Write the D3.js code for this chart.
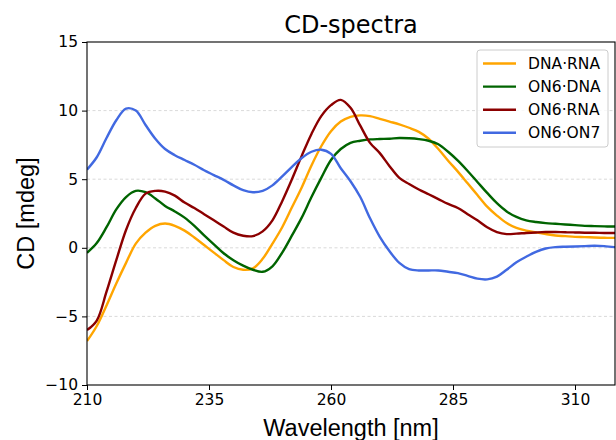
<!DOCTYPE html>
<html>
<head>
<meta charset="utf-8">
<script src="https://cdn.jsdelivr.net/npm/d3@7"></script>
<style>
  body { margin: 0; background: #fff; }
  svg { display: block; }
  .tick text { font-family: "DejaVu Sans", sans-serif; font-size: 15.5px; fill: #000; }
</style>
</head>
<body>
<svg id="cdChart" width="616" height="440"></svg>
<script>
var wavelengths = [210,212,214,216,218,220,222,224,226,228,230,232,234,236,238,240,242,244,246,248,
  250,252,254,256,258,260,262,264,266,268,270,272,274,276,278,280,282,284,286,288,
  290,292,294,296,298,300,302,304,306,308,310,312,314,316,318,320];

var dnaRna = [-6.8,-5.7,-4.2,-2.6,-1.1,0.3,1.1,1.6,1.77,1.6,1.25,0.75,0.2,-0.35,-0.9,-1.4,-1.6,-1.5,-0.8,0.3,
  1.5,2.95,4.4,6.0,7.4,8.5,9.2,9.55,9.65,9.6,9.4,9.2,9.0,8.75,8.45,7.95,7.2,6.35,5.55,4.7,
  3.85,3.0,2.35,1.8,1.45,1.25,1.12,1.0,0.9,0.85,0.8,0.78,0.75,0.73,0.72,0.72];

var on6Dna = [-0.36,0.35,1.5,2.8,3.7,4.15,4.05,3.6,3.05,2.65,2.2,1.6,0.9,0.25,-0.4,-0.9,-1.3,-1.6,-1.75,-1.35,
  -0.35,0.9,2.2,3.7,5.1,6.4,7.2,7.65,7.8,7.9,7.93,7.95,8.0,7.98,7.92,7.8,7.55,7.0,6.35,5.6,
  4.8,4.0,3.25,2.65,2.25,2.0,1.88,1.8,1.75,1.7,1.65,1.6,1.58,1.56,1.55,1.55];

var on6Rna = [-6.0,-5.3,-3.2,-0.9,1.3,2.9,3.95,4.15,4.1,3.8,3.3,2.9,2.45,2.0,1.55,1.1,0.88,0.85,1.2,2.0,
  3.4,5.0,6.7,8.3,9.6,10.4,10.78,10.2,8.9,7.65,6.9,5.95,5.1,4.65,4.25,3.9,3.55,3.2,2.9,2.45,
  2.0,1.5,1.15,1.0,1.03,1.08,1.12,1.15,1.15,1.13,1.12,1.1,1.1,1.08,1.08,1.08];

var on6On7 = [5.7,6.6,8.0,9.3,10.15,10.0,8.95,7.95,7.2,6.75,6.4,6.05,5.65,5.3,4.95,4.55,4.2,4.05,4.15,4.55,
  5.2,5.9,6.55,7.0,7.15,6.85,5.8,4.85,3.7,2.15,0.8,-0.25,-1.1,-1.55,-1.65,-1.65,-1.65,-1.75,-1.85,-2.05,
  -2.25,-2.3,-2.1,-1.6,-1.05,-0.65,-0.3,-0.05,0.05,0.08,0.1,0.12,0.15,0.12,0.05,0.05];

var seriesNames = ["DNA\u00b7RNA", "ON6\u00b7DNA", "ON6\u00b7RNA", "ON6\u00b7ON7"];
var seriesColors = ["#ffa500", "#006400", "#8b0000", "#4169e1"];
var xTicks = [210, 235, 260, 285, 310];
var yTicks = [-10, -5, 0, 5, 10, 15];

var series = [dnaRna, on6Dna, on6Rna, on6On7].map(function(vals, i) {
  return { name: seriesNames[i], color: seriesColors[i],
    points: vals.map(function(v, j) { return { x: wavelengths[j], y: v }; }) };
});

var margin = { top: 42, right: 1, bottom: 55, left: 87 };
var width = 616 - margin.left - margin.right;
var height = 440 - margin.top - margin.bottom;

var svg = d3.select("#cdChart");
var g = svg.append("g").attr("transform", "translate(" + margin.left + "," + margin.top + ")");

var x = d3.scaleLinear().domain([210, 210 + width / 4.88]).range([0, width]);
var y = d3.scaleLinear().domain([-10, 15]).range([height, 0]);

// dashed horizontal grid
g.selectAll(".grid")
  .data(yTicks.filter(function(t) { return t > -10 && t < 15; }))
  .enter().append("line")
  .attr("x1", 0).attr("x2", width)
  .attr("y1", function(d) { return y(d); }).attr("y2", function(d) { return y(d); })
  .attr("stroke", "#cfcfcf").attr("stroke-width", 0.8).attr("stroke-dasharray", "3,2.5");

g.append("clipPath").attr("id", "plotClip")
  .append("rect").attr("width", width).attr("height", height);

var line = d3.line()
  .x(function(d) { return x(d.x); })
  .y(function(d) { return y(d.y); })
  .curve(d3.curveCatmullRom.alpha(0.5));

g.append("g").attr("clip-path", "url(#plotClip)")
  .selectAll(".series")
  .data(series)
  .enter().append("path")
  .attr("fill", "none")
  .attr("stroke", function(d) { return d.color; })
  .attr("stroke-width", 2.4)
  .attr("stroke-linejoin", "round")
  .attr("d", function(d) { return line(d.points); });

// axes
var xAxis = g.append("g").attr("transform", "translate(0," + height + ")")
  .call(d3.axisBottom(x).tickValues(xTicks).tickSize(5).tickPadding(4).tickFormat(d3.format("d")));
var yAxis = g.append("g")
  .call(d3.axisLeft(y).tickValues(yTicks).tickSize(5).tickPadding(4).tickFormat(function(d) {
    return d < 0 ? "\u2212" + Math.abs(d) : d;
  }));
[xAxis, yAxis].forEach(function(a) {
  a.select(".domain").remove();
  a.selectAll(".tick line").attr("stroke", "#000").attr("stroke-width", 1);
});

g.append("rect")
  .attr("width", width).attr("height", height)
  .attr("fill", "none").attr("stroke", "#000").attr("stroke-width", 1.1);

// title + labels
svg.append("text")
  .attr("x", margin.left + width / 2).attr("y", 33)
  .attr("text-anchor", "middle")
  .style("font-family", "DejaVu Sans, sans-serif").style("font-size", "24px")
  .text("CD-spectra");

svg.append("text")
  .attr("x", margin.left + width / 2).attr("y", 436)
  .attr("text-anchor", "middle")
  .style("font-family", "Liberation Sans, Arial, sans-serif").style("font-size", "23.5px")
  .text("Wavelength [nm]");

svg.append("text")
  .attr("transform", "translate(34," + (margin.top + height / 2) + ") rotate(-90)")
  .attr("text-anchor", "middle")
  .style("font-family", "Liberation Sans, Arial, sans-serif").style("font-size", "23.5px")
  .text("CD [mdeg]");

// legend
var legend = svg.append("g").attr("transform", "translate(477,50)");
legend.append("rect")
  .attr("width", 131).attr("height", 97).attr("rx", 3)
  .attr("fill", "#fff").attr("fill-opacity", 0.8)
  .attr("stroke", "#cccccc").attr("stroke-width", 1);

var items = legend.selectAll(".item")
  .data(series)
  .enter().append("g")
  .attr("transform", function(d, i) { return "translate(0," + (13.5 + i * 23.1) + ")"; });
items.append("line")
  .attr("x1", 6).attr("x2", 39)
  .attr("stroke", function(d) { return d.color; }).attr("stroke-width", 2.4);
items.append("text")
  .attr("x", 51).attr("y", 5.5)
  .style("font-family", "DejaVu Sans, sans-serif").style("font-size", "15.5px")
  .text(function(d) { return d.name; });
</script>
</body>
</html>
